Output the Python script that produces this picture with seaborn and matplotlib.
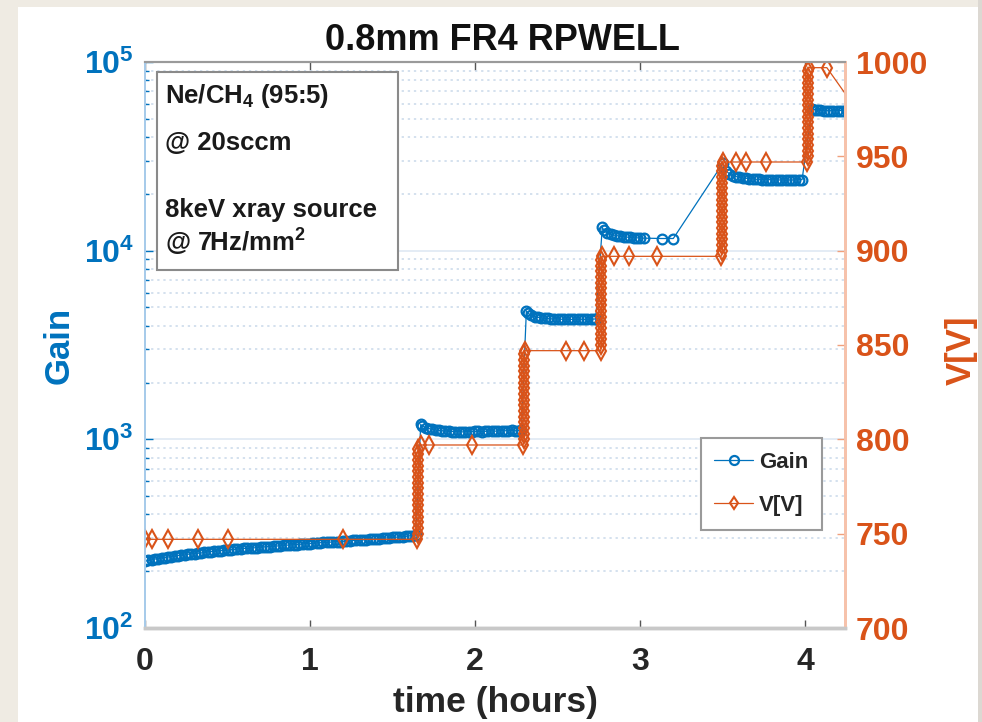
import matplotlib
matplotlib.use("Agg")
import matplotlib.pyplot as plt
from matplotlib.patches import Rectangle
from matplotlib.lines import Line2D
from matplotlib.ticker import FixedLocator, FixedFormatter, LogLocator, NullFormatter
import pandas as pd
import seaborn as sns

# ---------------- gain readings (time in hours, gain) ----------------
t_gain_750 = [0.00, 0.02, 0.04, 0.06, 0.08, 0.10, 0.12, 0.14, 0.16, 0.18, 0.20,
              0.22, 0.24, 0.26, 0.28, 0.30, 0.32, 0.34, 0.36, 0.38, 0.40, 0.42,
              0.44, 0.46, 0.48, 0.50, 0.52, 0.54, 0.56, 0.58, 0.60, 0.62, 0.64,
              0.66, 0.68, 0.70, 0.72, 0.74, 0.76, 0.78, 0.80, 0.82, 0.84, 0.86,
              0.88, 0.90, 0.92, 0.94, 0.96, 0.98, 1.00, 1.02, 1.04, 1.06, 1.08,
              1.10, 1.12, 1.14, 1.16, 1.18, 1.20, 1.22, 1.24, 1.26, 1.28, 1.30,
              1.32, 1.34, 1.36, 1.38, 1.40, 1.42, 1.44, 1.46, 1.48, 1.50, 1.52,
              1.54, 1.56, 1.58, 1.60, 1.62, 1.64]
gain_750 = [226, 228, 230, 232, 233, 235, 236, 238, 239, 240, 242,
            243, 244, 246, 247, 248, 249, 250, 252, 253, 254, 255,
            256, 257, 258, 259, 260, 261, 262, 263, 264, 264, 265,
            266, 267, 268, 269, 270, 270, 271, 272, 273, 274, 275,
            275, 276, 277, 278, 279, 280, 280, 281, 282, 283, 284,
            284, 285, 286, 287, 287, 288, 289, 290, 291, 291, 292,
            293, 294, 295, 296, 297, 298, 299, 300, 301, 302, 303,
            304, 305, 306, 308, 309, 311]

t_gain_800 = [1.67, 1.68, 1.70, 1.72, 1.74, 1.76, 1.78, 1.80, 1.82, 1.84, 1.86,
              1.88, 1.90, 1.92, 1.94, 1.96, 1.98, 2.00, 2.02, 2.04, 2.06, 2.08,
              2.10, 2.12, 2.14, 2.16, 2.18, 2.20, 2.22, 2.24, 2.26, 2.28]
gain_800 = [1200, 1175, 1155, 1140, 1130, 1122, 1115, 1110, 1106, 1103, 1100,
            1098, 1097, 1095, 1097, 1100, 1100, 1102, 1104, 1100, 1103, 1106,
            1108, 1105, 1108, 1110, 1110, 1112, 1114, 1110, 1113, 1115]

t_gain_850 = [2.31, 2.32, 2.34, 2.36, 2.38, 2.40, 2.42, 2.44, 2.46, 2.48, 2.50,
              2.52, 2.54, 2.56, 2.58, 2.60, 2.62, 2.64, 2.66, 2.68, 2.70, 2.72, 2.73]
gain_850 = [4800, 4650, 4540, 4470, 4430, 4400, 4380, 4370, 4350, 4350, 4340,
            4330, 4330, 4325, 4320, 4320, 4325, 4330, 4320, 4330, 4335, 4340, 4350]

t_gain_900 = [2.77, 2.78, 2.80, 2.82, 2.84, 2.86, 2.88, 2.90, 2.92, 2.94, 2.96,
              2.98, 3.00, 3.02, 3.13, 3.20]
gain_900 = [13300, 12800, 12450, 12250, 12100, 12000, 11900, 11850, 11800, 11750, 11700,
            11700, 11650, 11650, 11600, 11600]

t_gain_950 = [3.50, 3.52, 3.54, 3.56, 3.58, 3.60, 3.62, 3.64, 3.66, 3.68, 3.70,
              3.72, 3.74, 3.76, 3.78, 3.80, 3.82, 3.84, 3.86, 3.88, 3.90, 3.92,
              3.94, 3.96, 3.98]
gain_950 = [29000, 26500, 25500, 25000, 24700, 24500, 24300, 24200, 24100, 24000, 23900,
            23900, 23800, 23800, 23800, 23700, 23700, 23700, 23700, 23600, 23700, 23700,
            23700, 23800, 23800]

t_gain_1000 = [4.04, 4.05, 4.07, 4.09, 4.11, 4.13, 4.15, 4.17, 4.19, 4.21, 4.23, 4.25]
gain_1000 = [56500, 56000, 55700, 55500, 55300, 55200, 55200, 55100, 55200, 55300, 55300, 55400]

# ---------------- voltage readings (time in hours, volts) ----------------
t_v_750 = [0.00, 0.04, 0.14, 0.32, 0.50, 1.20, 1.65]
v_750 = [747, 747, 747, 747, 747, 747, 747]
t_ramp_1 = [1.655] * 16
v_ramp_1 = [750, 753, 756, 759, 762, 765, 768, 771, 774, 777, 780, 783, 786, 789, 792, 795]

t_v_800 = [1.67, 1.72, 1.98, 2.29]
v_800 = [797, 797, 797, 797]
t_ramp_2 = [2.295] * 16
v_ramp_2 = [800, 803, 806, 809, 812, 815, 818, 821, 824, 827, 830, 833, 836, 839, 842, 845]

t_v_850 = [2.30, 2.55, 2.66, 2.76]
v_850 = [847, 847, 847, 847]
t_ramp_3 = [2.765] * 16
v_ramp_3 = [850, 853, 856, 859, 862, 865, 868, 871, 874, 877, 880, 883, 886, 889, 892, 895]

t_v_900 = [2.77, 2.84, 2.93, 3.10, 3.49]
v_900 = [897, 897, 897, 897, 897]
t_ramp_4 = [3.495] * 16
v_ramp_4 = [900, 903, 906, 909, 912, 915, 918, 921, 924, 927, 930, 933, 936, 939, 942, 945]

t_v_950 = [3.50, 3.58, 3.64, 3.76, 4.01]
v_950 = [947, 947, 947, 947, 947]
t_ramp_5 = [4.015] * 16
v_ramp_5 = [950, 953, 956, 959, 962, 965, 968, 971, 974, 977, 980, 983, 986, 989, 992, 995]

t_v_1000 = [4.02, 4.13, 4.30]
v_1000 = [997, 997, 976]

# ---------------- axis ticks ----------------
x_ticks = [0, 1, 2, 3, 4]
gain_ticks = [1e2, 1e3, 1e4, 1e5]
gain_tick_labels = [r"$\mathbf{10^{2}}$", r"$\mathbf{10^{3}}$", r"$\mathbf{10^{4}}$", r"$\mathbf{10^{5}}$"]
v_ticks = [700, 750, 800, 850, 900, 950, 1000]

info_lines = ["Ne/CH$_4$ (95:5)", "@ 20sccm", "8keV xray source", "@ 7Hz/mm$^2$"]

BLUE = "#0072BD"
ORANGE = "#D95319"
DARK = "#262626"

gain_df = pd.DataFrame({
    "t": t_gain_750 + t_gain_800 + t_gain_850 + t_gain_900 + t_gain_950 + t_gain_1000,
    "gain": gain_750 + gain_800 + gain_850 + gain_900 + gain_950 + gain_1000,
})
volt_df = pd.DataFrame({
    "t": (t_v_750 + t_ramp_1 + t_v_800 + t_ramp_2 + t_v_850 + t_ramp_3
          + t_v_900 + t_ramp_4 + t_v_950 + t_ramp_5 + t_v_1000),
    "v": (v_750 + v_ramp_1 + v_800 + v_ramp_2 + v_850 + v_ramp_3
          + v_900 + v_ramp_4 + v_950 + v_ramp_5 + v_1000),
})

sns.set_theme(style="white")
plt.rcParams["font.family"] = ["Liberation Sans", "DejaVu Sans"]
plt.rcParams["font.weight"] = "bold"
plt.rcParams["mathtext.fontset"] = "custom"
plt.rcParams["mathtext.rm"] = "Liberation Sans:bold"
plt.rcParams["mathtext.bf"] = "Liberation Sans:bold"
plt.rcParams["mathtext.it"] = "Liberation Sans:bold"
plt.rcParams["mathtext.default"] = "bf"

W, H = 982, 722
fig = plt.figure(figsize=(W / 100, H / 100), dpi=100, facecolor="#efebe3")
# white slide panel
fig.add_artist(Rectangle((18 / W, 0), (978 - 18) / W, (H - 7) / H, transform=fig.transFigure,
                         facecolor="white", edgecolor="none", zorder=-10))
fig.add_artist(Rectangle((978 / W, 0), 4 / W, 1, transform=fig.transFigure,
                         facecolor="#dcd8d2", edgecolor="none", zorder=-10))

ax = fig.add_axes([145 / W, 1 - 628 / H, 700 / W, 566 / H])
ax.set_facecolor("white")
ax.set_yscale("log")
ax2 = ax.twinx()

gain_style = dict(color=BLUE, linewidth=0.9, marker="o", markersize=7,
                  markerfacecolor="none", markeredgecolor=BLUE, markeredgewidth=1.6)
volt_style = dict(color=ORANGE, linewidth=0.9, marker="d", markersize=9,
                  markerfacecolor="none", markeredgecolor=ORANGE, markeredgewidth=1.5)

sns.lineplot(data=gain_df, x="t", y="gain", ax=ax, sort=False, estimator=None,
             legend=False, **gain_style)
sns.lineplot(data=volt_df, x="t", y="v", ax=ax2, sort=False, estimator=None,
             legend=False, **volt_style)

ax.set_xlim(0, 4.24)
ax.set_ylim(1e2, 1e5)
ax2.set_ylim(700, 1000)

# grid: faint solid decades, dotted minor lines
ax.yaxis.set_major_locator(FixedLocator(gain_ticks))
ax.yaxis.set_major_formatter(FixedFormatter(gain_tick_labels))
ax.yaxis.set_minor_locator(LogLocator(base=10, subs=range(2, 10)))
ax.yaxis.set_minor_formatter(NullFormatter())
ax.grid(which="major", axis="y", color="#dfe9f3", linestyle="-", linewidth=1.2)
ax.grid(which="minor", axis="y", color="#c9d9ea", linestyle=(0, (1.5, 2.5)), linewidth=1.1)
ax.grid(which="both", axis="x", visible=False)
ax2.grid(False)

ax.set_xticks(x_ticks)
ax.set_xticklabels([str(v) for v in x_ticks])
ax2.yaxis.set_major_locator(FixedLocator(v_ticks))

ax.tick_params(axis="x", which="both", direction="in", top=True, bottom=True, length=6,
               width=1, color="#555555", labelsize=23, labelcolor=DARK, pad=14)
ax.tick_params(axis="y", which="major", direction="in", left=True, right=False, length=6,
               width=1, color=BLUE, labelsize=23, labelcolor=BLUE, pad=8)
ax.tick_params(axis="y", which="minor", direction="in", left=True, right=False, length=3,
               width=1, color=BLUE)
ax2.tick_params(axis="y", which="major", direction="in", right=True, left=False, length=6,
                width=1, color="#f0a07c", labelsize=23, labelcolor=ORANGE, pad=8)
for lab in ax.get_xticklabels() + ax.get_yticklabels() + ax2.get_yticklabels():
    lab.set_fontweight("bold")

for a in (ax, ax2):
    a.spines["top"].set_color("#9a9a9a")
    a.spines["bottom"].set_color("#c8c8c8")
    a.spines["bottom"].set_linewidth(2.5)
    a.spines["top"].set_linewidth(1.5)
    a.spines["left"].set_color("#a7cbea")
    a.spines["left"].set_linewidth(1.3)
    a.spines["right"].set_color("#f6c2ab")
    a.spines["right"].set_linewidth(2.0)

ax.set_xlabel("time (hours)", fontsize=25.5, fontweight="bold", color=DARK)
ax.xaxis.set_label_coords(0.5, -0.102)
ax.set_ylabel("Gain", fontsize=25, fontweight="bold", color=BLUE)
ax.yaxis.set_label_coords(-0.099, 0.5)
ax2.set_ylabel("V[V]", fontsize=25, fontweight="bold", color=ORANGE)
ax2.yaxis.set_label_coords(1.143, 0.49)

fig.text(502 / W, 1 - 40 / H, "0.8mm FR4 RPWELL", fontsize=26, fontweight="bold",
         color="#111111", ha="center", va="center")

# annotation box with gas and source conditions
ax.add_patch(Rectangle(((157 - 145) / 700, (628 - 270) / 566), (398 - 157) / 700, (270 - 72) / 566,
                       transform=ax.transAxes, facecolor="white", edgecolor="#8a8a8a",
                       linewidth=1.5, zorder=5))
baselines = [103, 150, 217, 252]
for txt, yb in zip(info_lines, baselines):
    ax.text((165 - 145) / 700, (628 - yb) / 566, txt, transform=ax.transAxes,
            fontsize=18.5, fontweight="bold", color="#1a1a1a", ha="left", va="baseline", zorder=6)

handles = [Line2D([], [], **gain_style), Line2D([], [], **volt_style)]
leg = ax2.legend(handles, ["Gain", "V[V]"], loc="upper right", bbox_to_anchor=(0.967, 0.336),
                 borderaxespad=0, frameon=True, fancybox=False,
                 edgecolor="#9a9a9a", framealpha=1, handlelength=1.75, handletextpad=0.25,
                 labelspacing=1.02, borderpad=0.62,
                 prop={"weight": "bold", "size": 16})
leg.get_frame().set_linewidth(1.5)
for ln in leg.get_lines():
    ln.set_markersize(6.5)

fig.savefig("out.png", dpi=100, facecolor=fig.get_facecolor())
